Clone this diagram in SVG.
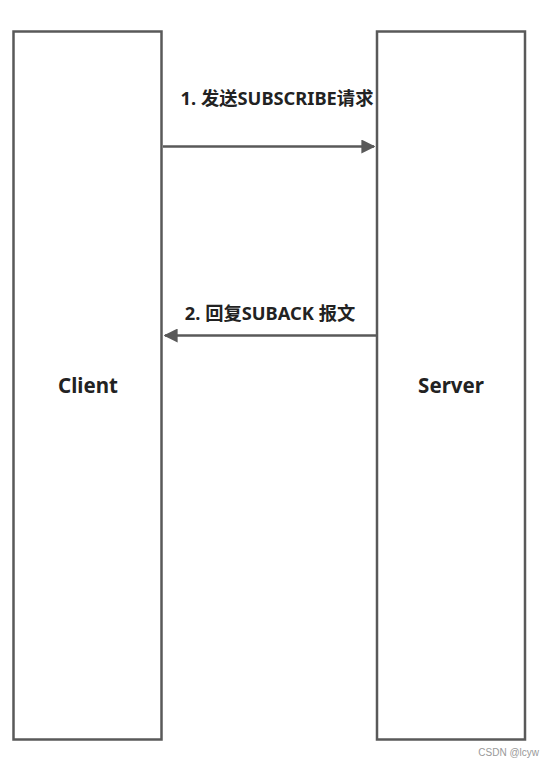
<svg xmlns="http://www.w3.org/2000/svg" width="552" height="767" viewBox="0 0 552 767">
<style>
.box{fill:#fff;stroke:#595959;stroke-width:2.5}
.lbl{font-family:"Noto Sans","Noto Sans CJK SC",sans-serif;font-weight:bold;fill:#222;font-size:20.5px;text-anchor:middle}
.msg{font-family:"Noto Sans","Noto Sans CJK SC",sans-serif;font-weight:bold;fill:#222;font-size:18.3px;text-anchor:middle}
.conn{stroke:#595959;stroke-width:2.5;fill:none}
</style>
<defs>
<marker id="ah" viewBox="0 0 10 10" refX="9" refY="5" markerWidth="5.6" markerHeight="5.6" orient="auto" markerUnits="strokeWidth">
<path d="M0,0 L10,5 L0,10 Z" fill="#595959"/>
</marker>
</defs>
<rect width="552" height="767" fill="#fff"/>
<g id="client">
<rect class="box" x="13.5" y="31.5" width="148" height="708"/>
<text class="lbl" x="88" y="393">Client</text>
</g>
<g id="server">
<rect class="box" x="377" y="31.5" width="148" height="708"/>
<text class="lbl" x="451" y="393">Server</text>
</g>
<g id="connectors">
<line class="conn" x1="163" y1="146.5" x2="374" y2="146.5" marker-end="url(#ah)"/>
<text class="msg" x="277" y="105">1. 发送SUBSCRIBE请求</text>
<line class="conn" x1="376" y1="335.5" x2="165" y2="335.5" marker-end="url(#ah)"/>
<text class="msg" x="270" y="320">2. 回复SUBACK 报文</text>
</g>
<text x="539" y="756" font-family="Liberation Sans, sans-serif" font-size="10" fill="#999" text-anchor="end">CSDN @lcyw</text>
</svg>
